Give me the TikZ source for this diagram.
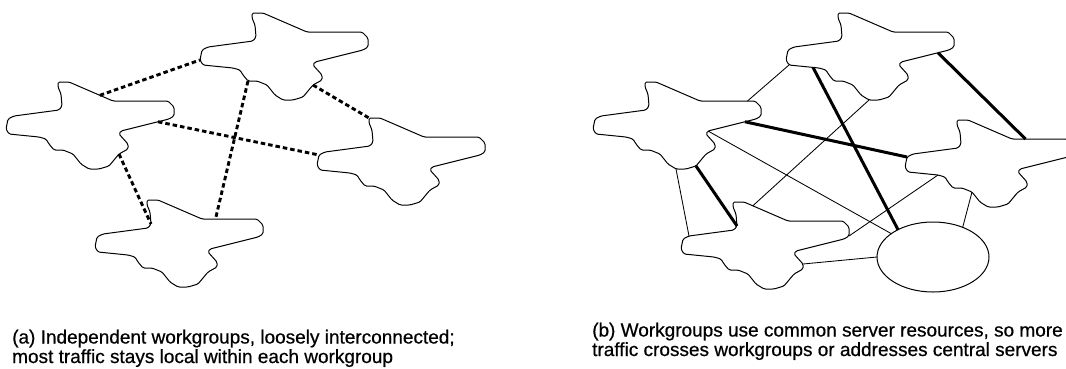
\documentclass[tikz,border=0pt]{standalone}
\usepackage{fontspec}
\setmainfont{Liberation Sans}[BoldFont={Liberation Sans},BoldFeatures={FakeBold=0.6}]
\usetikzlibrary{shapes.geometric}

\begin{document}
\begin{tikzpicture}[
  x=1pt,y=-1pt,
  every node/.style={font=\fontsize{19}{19.5}\selectfont\bfseries,align=left},
  outline/.style={draw=black,line width=1pt,rounded corners=1.5pt},
  loose/.style={line width=2.9pt,dash pattern=on 4.5pt off 3pt},
  link/.style={line width=0.85pt},
  heavy/.style={line width=3pt},
  % one workgroup blob, with a few named points on its rim
  workgroup/.pic={
    \draw[outline] (0,0) coordinate (-n) -- (11,0)
      -- coordinate[pos=.2] (-n1) coordinate[pos=.7] (-n2) (55,19)
      -- coordinate[pos=.45] (-n3) (85,19)
      -- coordinate[pos=.7] (-n4) (110,19) -- (116,25)
      -- (116,34) coordinate (-e) -- (111,37)
      -- coordinate[pos=.23] (-e1) (63,49) coordinate (-e2) -- (61,52)
      -- (70,62) coordinate (-e3) -- (70,67)
      -- (61,72) coordinate (-se) -- (51,84) coordinate (-s1) -- (41,87)
      -- (31,87) coordinate (-s) -- (23,82) -- (15,72) coordinate (-s2)
      -- (5,68) -- (-4,68) coordinate (-sw) -- (-9,62) -- (-12,57)
      -- (-19,55) coordinate (-w1)
      -- coordinate[pos=.2] (-w2) (-49,52) coordinate (-w3)
      -- (-52,47) coordinate (-w) -- (-50,37) coordinate (-w4)
      -- (-44,34) coordinate (-w5) -- (1,28) -- (4,24) coordinate (-nf)
      -- (3,12) -- (0,5) -- cycle;
  }
]
\path[use as bounding box,clip] (0,0) rectangle (1066,368);

% (a) independent workgroups
\pic (aleft) at (58,82) {workgroup};
\pic (atop) at (252,13) {workgroup};
\pic (aright) at (369,118) {workgroup};
\pic (abottom) at (147,200) {workgroup};
\draw[loose] (aleft-n2) -- (atop-w);
\draw[loose] (atop-sw) -- (abottom-n3);
\draw[loose] (atop-se) -- (aright-n);
\draw[loose] (aleft-e1) -- (aright-w4);
\draw[loose] (aleft-se) -- (abottom-nf);

% (b) workgroups sharing a server
\pic (bleft) at (645,82) {workgroup};
\pic (btop) at (838,13) {workgroup};
\pic (bright) at (957,120) {workgroup};
\pic (bbottom) at (733,202) {workgroup};
\node[ellipse,draw,line width=1pt,minimum width=112pt,minimum height=70pt,outer sep=0pt] (server) at (933,257) {};
\draw[link] (bleft-n4) -- (btop-w3);
\draw[link] (btop-s) -- (bbottom-n1);
\draw[link] (bleft-e2) -- (server);
\draw[link] (bright-w1) -- (bbottom-e);
\draw[link] (bright-s2) -- (server.45);
\draw[link] (bleft-s) -- (bbottom-w5);
\draw[link] (bbottom-e3) -- (server.west);
\draw[heavy] (btop-e1) -- (bright-n3);
\draw[heavy] (btop-w2) -- (server.142);
\draw[heavy] (bleft-e1) -- (bright-w4);
\draw[heavy] (bleft-s1) -- (bbottom-nf);

% captions
\node[anchor=base west,inner sep=0pt] (capa) at (12,363)
  {(a) Independent workgroups, loosely interconnected;\\most traffic stays local within each workgroup};
\node[anchor=base west,inner sep=0pt] (capb) at (592,356)
  {(b) Workgroups use common server resources, so more\\traffic crosses workgroups or addresses central servers};
\end{tikzpicture}
\end{document}
